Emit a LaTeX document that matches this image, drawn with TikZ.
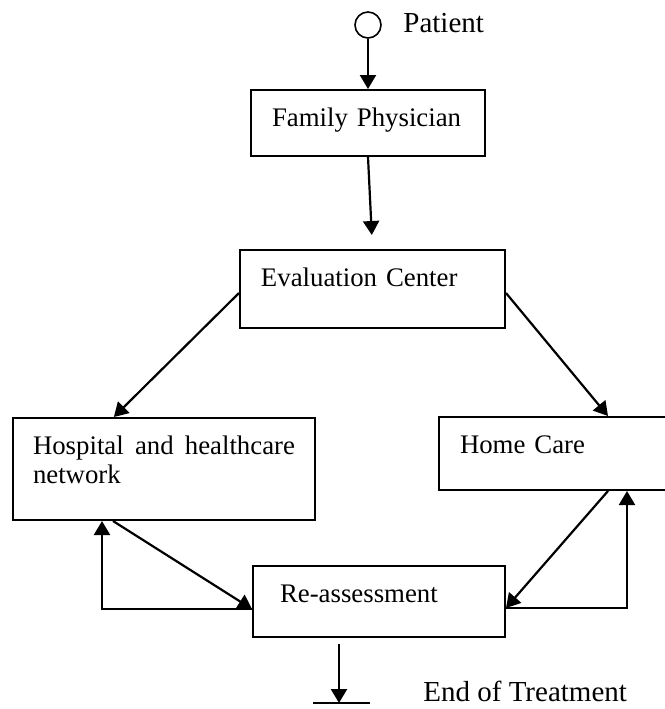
\documentclass[tikz,border=0pt]{standalone}
\usepackage{fontspec}
\setmainfont{Liberation Serif}
\usetikzlibrary{arrows.meta,calc}

\begin{document}
\begin{tikzpicture}[x=0.5pt,y=-0.5pt,
    every node/.style={font=\fontsize{13.4}{14.5}\selectfont},
    box/.style={draw, line width=1pt, anchor=north west, inner ysep=0pt, inner xsep=10.5pt, text height=18pt, align=left},
    tag/.style={anchor=base west, inner sep=0pt, font=\fontsize{14.5}{16}\selectfont},
    flow/.style={line width=1.1pt, -{Triangle[length=7pt,width=8pt]}}]
    \useasboundingbox (0,0) rectangle (665,709);

    % start
    \node[draw, circle, line width=0.8pt, minimum size=13pt, inner sep=0pt] (patient) at (368,25) {};
    \node[tag] (patientlabel) at (403,32) {Patient};

    % stages
    \node[box, text width=96pt, text depth=15pt] (physician) at (250,89) {Family Physician};
    \node[box, text width=111.5pt, text depth=21pt] (evaluation) at (239,249) {Evaluation Center};
    \node[box, text width=131pt, text depth=33pt, inner xsep=10pt, align=justify] (hospital) at (12,417) {Hospital and healthcare network};
    \node[box, text width=104pt, text depth=18.5pt] (home) at (438,416) {Home Care};
    \node[box, text width=99pt, text depth=17.5pt, inner xsep=13.5pt] (reassess) at (252,565) {Re-assessment};

    % arrows
    \draw[flow] (patient) -- (patient |- physician.north);
    \draw[flow, shorten >=7pt] (physician.south) -- (evaluation.north);
    \draw[flow] ([yshift=-2pt]evaluation.west) -- ($(hospital.north west)!0.335!(hospital.north east)$);
    \draw[flow] ([yshift=-2pt]evaluation.east) -- ([xshift=85pt]home.north west);
    \draw[flow] ([xshift=50.5pt]hospital.south west) -- ([yshift=-22pt]reassess.north west);
    \draw[flow] ([yshift=-22pt]reassess.north west) -| ([xshift=45pt]hospital.south west);
    \draw[flow] ([xshift=85pt]home.south west) -- ([yshift=-21.5pt]reassess.north east);
    \draw[flow] ([yshift=-21.5pt]reassess.north east) -| ([xshift=94.5pt]home.south west);

    % end
    \coordinate (stop) at (339,703);
    \draw[flow, shorten <=3pt] (reassess.south west -| stop) -- (stop);
    \draw[line width=1pt] ([xshift=-13pt]stop) -- ([xshift=15.5pt]stop);
    \node[tag] (endlabel) at (423,701) {End of Treatment};
\end{tikzpicture}
\end{document}
